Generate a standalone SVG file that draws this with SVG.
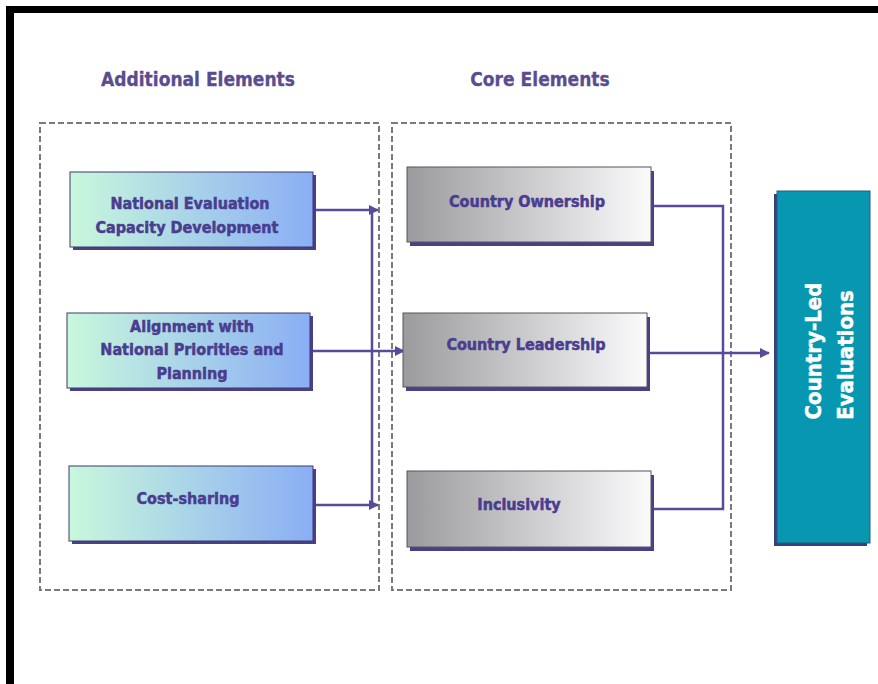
<svg xmlns="http://www.w3.org/2000/svg" width="878" height="684" viewBox="0 0 878 684">
  <style>
    .title { font-family: "DejaVu Sans Condensed", "DejaVu Sans", sans-serif; font-stretch: condensed; font-weight: bold; font-size: 19px; fill: #5a4d8f; stroke: #5a4d8f; stroke-width: 0.3; text-anchor: middle; }
    .label { font-family: "DejaVu Sans Condensed", "DejaVu Sans", sans-serif; font-stretch: condensed; font-weight: bold; font-size: 16px; fill: #4a3d8f; stroke: #4a3d8f; stroke-width: 0.5; text-anchor: middle; }
    .big { font-family: "DejaVu Sans Condensed", "DejaVu Sans", sans-serif; font-stretch: condensed; font-weight: bold; font-size: 22px; fill: #ffffff; stroke: #ffffff; stroke-width: 0.5; text-anchor: middle; }
    .group { fill: none; stroke: #7a7a7a; stroke-width: 2; stroke-dasharray: 6 3; }
    .shadow { fill: #4b3f8a; }
    .add { fill: url(#addGrad); stroke: #3d3a6b; stroke-width: 1; }
    .core { fill: url(#coreGrad); stroke: #55555f; stroke-width: 1; }
    .wire { fill: none; stroke: #5b4a9a; stroke-width: 2.5; }
  </style>
  <defs>
    <linearGradient id="addGrad" x1="0" y1="0" x2="1" y2="0">
      <stop offset="0" stop-color="#c8f8dc"/>
      <stop offset="1" stop-color="#8aaef5"/>
    </linearGradient>
    <linearGradient id="coreGrad" x1="0" y1="0" x2="1" y2="0">
      <stop offset="0" stop-color="#9b9b9e"/>
      <stop offset="1" stop-color="#fbfbfc"/>
    </linearGradient>
    <marker id="arrow" viewBox="0 0 10 10" refX="9" refY="5" markerWidth="4" markerHeight="4" orient="auto" markerUnits="strokeWidth">
      <path d="M0,0 L10,5 L0,10 z" fill="#5b4a9a"/>
    </marker>
  </defs>

  <rect width="878" height="684" fill="#ffffff"/>
  <!-- frame edges -->
  <rect x="6" y="6" width="872" height="7" fill="#000000"/>
  <rect x="6" y="6" width="8" height="678" fill="#000000"/>

  <!-- column headings -->
  <text class="title" x="198" y="86">Additional Elements</text>
  <text class="title" x="540" y="86">Core Elements</text>

  <!-- dashed groupings -->
  <rect class="group" x="40" y="123" width="339" height="467"/>
  <rect class="group" x="392" y="123" width="339" height="467"/>

  <!-- connectors -->
  <g id="connectors">
    <path class="wire" d="M316,210 H378" marker-end="url(#arrow)"/>
    <path class="wire" d="M372,210 V505"/>
    <path class="wire" d="M316,505 H378" marker-end="url(#arrow)"/>
    <path class="wire" d="M313,351 H404" marker-end="url(#arrow)"/>
    <path class="wire" d="M654,206 H723 V509 H654"/>
    <path class="wire" d="M650,353 H769" marker-end="url(#arrow)"/>
  </g>

  <!-- additional elements -->
  <g id="node-necd">
    <rect class="shadow" x="73" y="175" width="243" height="75"/>
    <rect class="add" x="70" y="172" width="243" height="75"/>
    <text class="label" x="190" y="209">National Evaluation</text>
    <text class="label" x="187" y="233">Capacity Development</text>
  </g>
  <g id="node-alignment">
    <rect class="shadow" x="70" y="316" width="243" height="75"/>
    <rect class="add" x="67" y="313" width="243" height="75"/>
    <text class="label" x="192" y="332">Alignment with</text>
    <text class="label" x="192" y="355">National Priorities and</text>
    <text class="label" x="192" y="379">Planning</text>
  </g>
  <g id="node-cost">
    <rect class="shadow" x="72" y="469" width="244" height="75"/>
    <rect class="add" x="69" y="466" width="244" height="75"/>
    <text class="label" x="188" y="504">Cost-sharing</text>
  </g>

  <!-- core elements -->
  <g id="node-ownership">
    <rect class="shadow" x="410" y="171" width="244" height="75"/>
    <rect class="core" x="407" y="167" width="244" height="75"/>
    <text class="label" x="527" y="207">Country Ownership</text>
  </g>
  <g id="node-leadership">
    <rect class="shadow" x="406" y="317" width="244" height="74"/>
    <rect class="core" x="403" y="313" width="244" height="74"/>
    <text class="label" x="526" y="350">Country Leadership</text>
  </g>
  <g id="node-inclusivity">
    <rect class="shadow" x="410" y="475" width="244" height="76"/>
    <rect class="core" x="407" y="471" width="244" height="76"/>
    <text class="label" x="519" y="510">Inclusivity</text>
  </g>

  <!-- outcome -->
  <g id="node-outcome">
    <rect x="774" y="194" width="93" height="352" fill="#3a3f80"/>
    <rect x="777" y="191" width="93" height="352" fill="#0897b0" stroke="#2a5a7a" stroke-width="1"/>
    <text class="big" transform="translate(821,351) rotate(-90)">Country-Led</text>
    <text class="big" transform="translate(853,355) rotate(-90)">Evaluations</text>
  </g>
</svg>
